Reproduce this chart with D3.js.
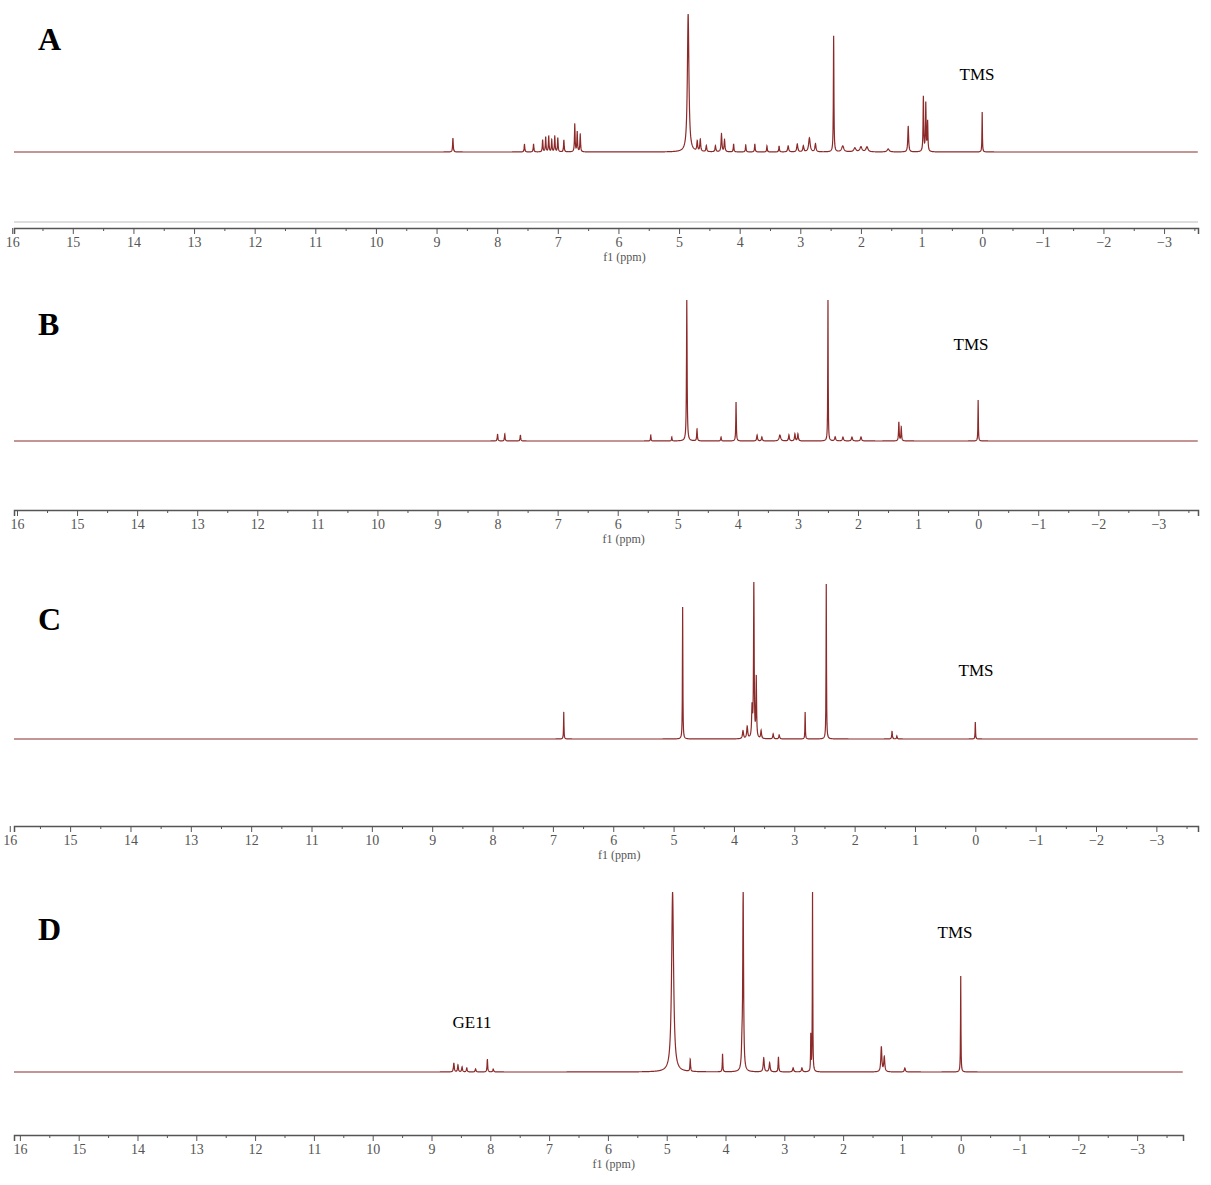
<!DOCTYPE html>
<html><head><meta charset="utf-8">
<script src="https://cdn.jsdelivr.net/npm/d3@7"></script>
<style>body{margin:0;background:#fff}</style></head>
<body><svg id="c" width="1211" height="1185"></svg>
<script>
// peaks: [ppm, intensity, halfwidth(ppm)]
const peaksA=[[8.73,14,.006],[7.55,8,.006],[7.4,8,.006],[7.25,12,.006],[7.2,15,.006],[7.15,16,.006],[7.1,12,.006],[7.05,16,.006],[7.0,14,.006],[6.9,12,.006],[6.72,28,.006],[6.68,20,.006],[6.63,18,.006],[4.85,138,.015],[4.7,10,.008],[4.65,12,.008],[4.55,6,.008],[4.4,6,.008],[4.3,18,.008],[4.25,12,.008],[4.1,8,.006],[3.9,7,.006],[3.75,8,.006],[3.55,6,.006],[3.35,6,.006],[3.2,6,.01],[3.05,8,.01],[2.95,6,.01],[2.85,14,.015],[2.75,8,.01],[2.45,116,.005],[2.3,6,.02],[2.1,4,.02],[2.0,5,.02],[1.9,5,.02],[1.55,3,.02],[1.22,26,.008],[0.97,55,.006],[0.93,48,.006],[0.9,30,.006],[0.0,40,.004]];
const peaksB=[[8.0,7,.006],[7.88,7,.006],[7.62,6,.006],[5.45,6,.005],[5.1,4,.005],[4.85,141,.006],[4.68,12,.006],[4.28,4,.006],[4.03,39,.005],[3.68,6,.008],[3.6,4,.008],[3.3,6,.015],[3.15,6,.008],[3.05,7,.008],[3.0,7,.008],[2.5,141,.004],[2.38,4,.01],[2.25,4,.01],[2.1,4,.01],[1.95,4,.01],[1.32,19,.006],[1.28,14,.006],[0.0,41,.004]];
const peaksC=[[6.82,27,.004],[4.85,132,.004],[3.85,8,.01],[3.78,12,.01],[3.7,30,.008],[3.67,157,.006],[3.63,60,.006],[3.55,8,.008],[3.35,5,.008],[3.25,4,.008],[2.82,27,.004],[2.47,155,.004],[1.38,8,.006],[1.3,3,.006],[0.0,17,.004]];
const peaksD=[[8.62,9,.008],[8.55,7,.008],[8.48,5,.008],[8.4,4,.008],[8.25,3,.008],[8.05,13,.006],[7.95,3,.008],[4.9,180,.02],[4.6,12,.006],[4.05,18,.005],[3.72,20,.01],[3.7,180,.008],[3.35,14,.01],[3.25,9,.01],[3.1,15,.006],[2.85,4,.01],[2.7,4,.01],[2.55,36,.004],[2.52,180,.004],[1.35,25,.01],[1.3,15,.01],[0.95,4,.01],[0.0,96,.004]];
const panels=[
 {label:"A",peaks:peaksA,x0:14,x1:1198,lo:15.97,hi:-3.56,base:152,top:14,max:138,axisY:228,dbl:true,tms:[977,80],labY:50},
 {label:"B",peaks:peaksB,x0:14,x1:1198,lo:16.05,hi:-3.66,base:441,top:300,max:141,axisY:510,tms:[971,350],labY:335},
 {label:"C",peaks:peaksC,x0:14,x1:1198,lo:15.93,hi:-3.69,base:739,top:582,max:157,axisY:826,tms:[976,676],labY:630},
 {label:"D",peaks:peaksD,x0:14,x1:1183,lo:16.1,hi:-3.78,base:1072,top:892,max:180,axisY:1135,tms:[955,938],labY:940,ge:[472,1028]}
];
const svg=d3.select("#c");
const serif="'Liberation Serif','DejaVu Serif',serif";
panels.forEach(p=>{
  const x=d3.scaleLinear().domain([p.lo,p.hi]).range([p.x0,p.x1]);
  const y=d3.scaleLinear().domain([0,p.max]).range([p.base,p.top]);
  const g=svg.append("g");
  let xs=d3.range(p.x0,p.x1,0.25).concat(p.peaks.map(d=>x(d[0]))).sort((a,b)=>a-b);
  const pts=xs.map(px=>{
    const v=x.invert(px); let s=0;
    p.peaks.forEach(([c,h,w])=>{s+=h*w*w/((v-c)*(v-c)+w*w);});
    return [px,Math.max(p.top,y(Math.min(s,p.max)))];
  });
  g.append("path").attr("d",d3.line()(pts)).attr("fill","none").attr("stroke","#8c2a2a").attr("stroke-width",1.2);
  if(p.dbl){g.append("line").attr("x1",p.x0).attr("x2",p.x1).attr("y1",p.axisY-6).attr("y2",p.axisY-6).attr("stroke","#bbb").attr("stroke-width",1);}
  const ax=d3.axisBottom(x).tickValues(d3.range(-3,16.01,1)).tickSize(6).tickFormat(d=>d<0?"−"+(-d):d);
  const axg=g.append("g").attr("transform",`translate(0,${p.axisY})`).call(ax);
  axg.select(".domain").attr("stroke","#555").attr("stroke-width",1.5);
  axg.selectAll("line").attr("stroke","#555");
  axg.selectAll("text").attr("font-family",serif).attr("font-size",14).attr("fill","#555");
  const minor=d3.axisBottom(x).tickValues(d3.range(-3.5,16,1)).tickSize(3).tickFormat("");
  const mg=g.append("g").attr("transform",`translate(0,${p.axisY})`).call(minor);
  mg.select(".domain").remove(); mg.selectAll("line").attr("stroke","#555");
  g.append("text").attr("x",x(5.9)).attr("y",p.axisY+33).attr("text-anchor","middle").attr("font-family",serif).attr("font-size",12).attr("fill","#555").text("f1  (ppm)");
  g.append("text").attr("x",38).attr("y",p.labY).attr("font-family",serif).attr("font-weight","bold").attr("font-size",32).text(p.label);
  g.append("text").attr("x",p.tms[0]).attr("y",p.tms[1]).attr("text-anchor","middle").attr("font-family",serif).attr("font-size",17).text("TMS");
  if(p.ge) g.append("text").attr("x",p.ge[0]).attr("y",p.ge[1]).attr("text-anchor","middle").attr("font-family",serif).attr("font-size",17).text("GE11");
});
</script></body></html>
